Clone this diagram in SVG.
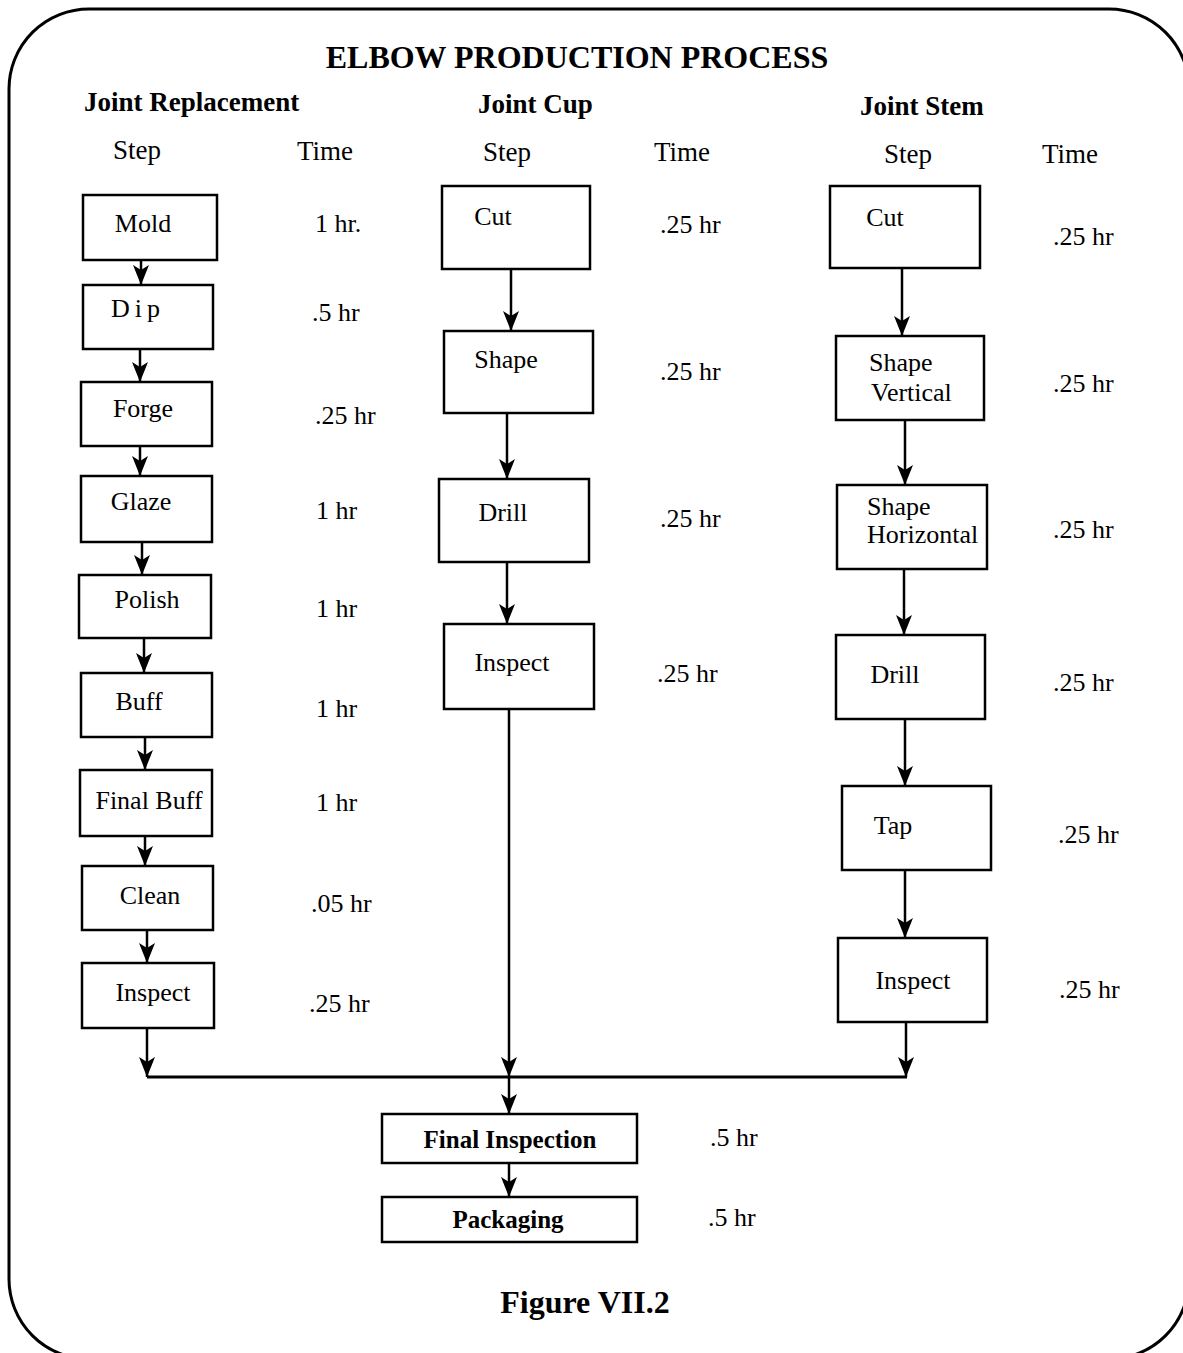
<svg xmlns="http://www.w3.org/2000/svg" width="1183" height="1353" viewBox="0 0 1183 1353">
<style>
text{font-family:"Liberation Serif","Times New Roman",serif;fill:#000}
.t{font-size:26px}
.s{font-size:27px;font-weight:bold}
.c{font-size:27px}
.b{fill:#fff;stroke:#000;stroke-width:2.5}
.e{stroke:#000;stroke-width:2.5;fill:none;marker-end:url(#ah)}
</style>
<defs>
<marker id="ah" viewBox="0 0 20 16" refX="20" refY="8" markerWidth="20" markerHeight="16" markerUnits="userSpaceOnUse" orient="auto">
<path d="M0,0 L20,8 L0,16 L5,8 z" fill="#000"/>
</marker>
</defs>
<rect x="9" y="9" width="1180" height="1350" rx="80" ry="80" fill="#fff" stroke="#000" stroke-width="3"/>
<g id="titles">
<text x="577" y="68" text-anchor="middle" style="font-size:32px;font-weight:bold">ELBOW PRODUCTION PROCESS</text>
<text x="84" y="111" class="s">Joint Replacement</text>
<text x="478" y="113" class="s">Joint Cup</text>
<text x="860" y="115" class="s">Joint Stem</text>
<text x="113" y="159" class="c">Step</text>
<text x="297" y="160" class="c">Time</text>
<text x="483" y="161" class="c">Step</text>
<text x="654" y="161" class="c">Time</text>
<text x="884" y="163" class="c">Step</text>
<text x="1042" y="163" class="c">Time</text>
<text x="585" y="1313" text-anchor="middle" style="font-size:32px;font-weight:bold">Figure VII.2</text>
</g>
<g id="connectors">
<line class="e" x1="141" y1="260" x2="141" y2="285"/>
<line class="e" x1="140" y1="349" x2="140" y2="382"/>
<line class="e" x1="140" y1="446" x2="140" y2="476"/>
<line class="e" x1="142" y1="542" x2="142" y2="575"/>
<line class="e" x1="144" y1="638" x2="144" y2="673"/>
<line class="e" x1="145" y1="737" x2="145" y2="770"/>
<line class="e" x1="145" y1="836" x2="145" y2="866"/>
<line class="e" x1="147" y1="930" x2="147" y2="963"/>
<line class="e" x1="147" y1="1028" x2="147" y2="1077"/>
<line class="e" x1="511" y1="269" x2="511" y2="331"/>
<line class="e" x1="507" y1="413" x2="507" y2="479"/>
<line class="e" x1="507" y1="562" x2="507" y2="624"/>
<line class="e" x1="509" y1="709" x2="509" y2="1077"/>
<line class="e" x1="902" y1="268" x2="902" y2="336"/>
<line class="e" x1="905" y1="420" x2="905" y2="485"/>
<line class="e" x1="904" y1="569" x2="904" y2="635"/>
<line class="e" x1="905" y1="719" x2="905" y2="786"/>
<line class="e" x1="905" y1="870" x2="905" y2="938"/>
<line class="e" x1="906" y1="1022" x2="906" y2="1077"/>
<line x1="147" y1="1077" x2="907" y2="1077" stroke="#000" stroke-width="3"/>
<line class="e" x1="509" y1="1077" x2="509" y2="1114"/>
<line class="e" x1="509" y1="1163" x2="509" y2="1197"/>
</g>
<g id="mold"><rect class="b" x="83" y="195" width="134" height="65"/><text class="t" x="143" y="232" text-anchor="middle">Mold</text><text class="t" x="315" y="232">1 hr.</text></g>
<g id="dip"><rect class="b" x="83" y="285" width="130" height="64"/><text class="t" x="138" y="317" text-anchor="middle" letter-spacing="5">Dip</text><text class="t" x="312" y="321">.5 hr</text></g>
<g id="forge"><rect class="b" x="81" y="382" width="131" height="64"/><text class="t" x="143" y="417" text-anchor="middle">Forge</text><text class="t" x="315" y="424">.25 hr</text></g>
<g id="glaze"><rect class="b" x="81" y="476" width="131" height="66"/><text class="t" x="141" y="510" text-anchor="middle">Glaze</text><text class="t" x="316" y="519">1 hr</text></g>
<g id="polish"><rect class="b" x="79" y="575" width="132" height="63"/><text class="t" x="147" y="608" text-anchor="middle">Polish</text><text class="t" x="316" y="617">1 hr</text></g>
<g id="buff"><rect class="b" x="81" y="673" width="131" height="64"/><text class="t" x="139" y="710" text-anchor="middle">Buff</text><text class="t" x="316" y="717">1 hr</text></g>
<g id="finalbuff"><rect class="b" x="80" y="770" width="132" height="66"/><text class="t" x="149" y="809" text-anchor="middle">Final Buff</text><text class="t" x="316" y="811">1 hr</text></g>
<g id="clean"><rect class="b" x="82" y="866" width="131" height="64"/><text class="t" x="150" y="904" text-anchor="middle">Clean</text><text class="t" x="311" y="912">.05 hr</text></g>
<g id="inspect1"><rect class="b" x="82" y="963" width="132" height="65"/><text class="t" x="153" y="1001" text-anchor="middle">Inspect</text><text class="t" x="309" y="1012">.25 hr</text></g>
<g id="cut2"><rect class="b" x="442" y="186" width="148" height="83"/><text class="t" x="493" y="225" text-anchor="middle">Cut</text><text class="t" x="660" y="233">.25 hr</text></g>
<g id="shape2"><rect class="b" x="444" y="331" width="149" height="82"/><text class="t" x="506" y="368" text-anchor="middle">Shape</text><text class="t" x="660" y="380">.25 hr</text></g>
<g id="drill2"><rect class="b" x="439" y="479" width="150" height="83"/><text class="t" x="503" y="521" text-anchor="middle">Drill</text><text class="t" x="660" y="527">.25 hr</text></g>
<g id="inspect2"><rect class="b" x="444" y="624" width="150" height="85"/><text class="t" x="512" y="671" text-anchor="middle">Inspect</text><text class="t" x="657" y="682">.25 hr</text></g>
<g id="cut3"><rect class="b" x="830" y="186" width="150" height="82"/><text class="t" x="885" y="226" text-anchor="middle">Cut</text><text class="t" x="1053" y="245">.25 hr</text></g>
<g id="shapev"><rect class="b" x="836" y="336" width="148" height="84"/><text class="t" x="869" y="371">Shape</text><text class="t" x="871" y="401">Vertical</text><text class="t" x="1053" y="392">.25 hr</text></g>
<g id="shapeh"><rect class="b" x="837" y="485" width="150" height="84"/><text class="t" x="867" y="515">Shape</text><text class="t" x="867" y="543">Horizontal</text><text class="t" x="1053" y="538">.25 hr</text></g>
<g id="drill3"><rect class="b" x="836" y="635" width="149" height="84"/><text class="t" x="895" y="683" text-anchor="middle">Drill</text><text class="t" x="1053" y="691">.25 hr</text></g>
<g id="tap"><rect class="b" x="842" y="786" width="149" height="84"/><text class="t" x="893" y="834" text-anchor="middle">Tap</text><text class="t" x="1058" y="843">.25 hr</text></g>
<g id="inspect3"><rect class="b" x="838" y="938" width="149" height="84"/><text class="t" x="913" y="989" text-anchor="middle">Inspect</text><text class="t" x="1059" y="998">.25 hr</text></g>
<g id="finalinspection"><rect class="b" x="382" y="1114" width="255" height="49"/><text x="510" y="1148" text-anchor="middle" style="font-size:25px;font-weight:bold">Final Inspection</text><text class="t" x="710" y="1146">.5 hr</text></g>
<g id="packaging"><rect class="b" x="382" y="1197" width="255" height="45"/><text x="508" y="1228" text-anchor="middle" style="font-size:25px;font-weight:bold">Packaging</text><text class="t" x="708" y="1226">.5 hr</text></g>
</svg>
